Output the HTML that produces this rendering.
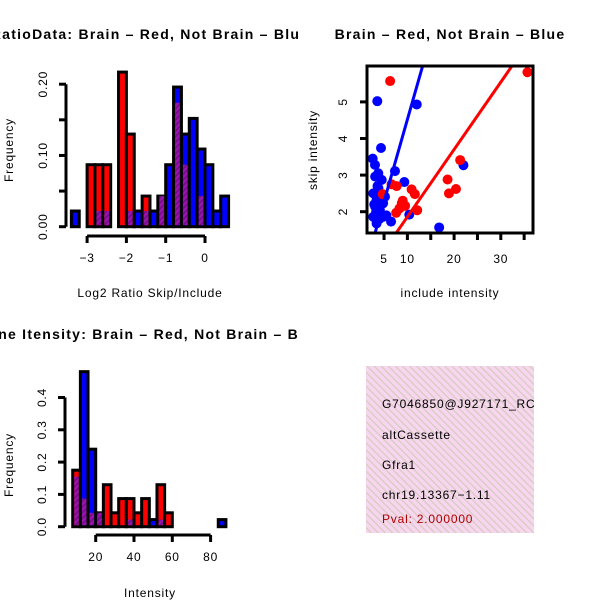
<!DOCTYPE html>
<html><head><meta charset="utf-8"><style>
html,body{margin:0;padding:0;background:#fff;}
svg{display:block;font-family:"Liberation Sans",sans-serif;}
text{letter-spacing:0.8px;}
.ttl{letter-spacing:1.25px;}
</style></head><body>
<svg id="s" width="600" height="600" viewBox="0 0 600 600">
<defs>
<pattern id="purp" patternUnits="userSpaceOnUse" width="4" height="4" patternTransform="rotate(45)">
<rect width="4" height="4" fill="#9a12b0"/><rect width="1.5" height="4" fill="#6e1080"/></pattern>
<pattern id="pink" patternUnits="userSpaceOnUse" width="5" height="5" patternTransform="rotate(-45)">
<rect width="5" height="5" fill="#f8d6f0"/><rect width="1.3" height="5" fill="#d6ccc0"/></pattern>
<clipPath id="cl1"><rect x="0" y="0" width="300" height="300"/></clipPath>
<clipPath id="cl3"><rect x="0" y="300" width="300" height="300"/></clipPath>
<clipPath id="cl2"><rect x="367" y="66" width="166" height="167"/></clipPath>
<clipPath id="cl4"><rect x="366" y="366" width="168" height="168"/></clipPath>
</defs>
<g id="p1"></g>
<g id="p2"></g>
<g id="p3"></g>
<g id="p4">
<rect x="366" y="366" width="168" height="167" fill="url(#pink)"/>
<g clip-path="url(#cl4)" font-size="12">
<text x="382" y="408">G7046850@J927171_RC</text>
<text x="382" y="439">altCassette</text>
<text x="382" y="469">Gfra1</text>
<text x="382" y="499">chr19.13367−1.11</text>
<text x="382" y="523" fill="#b00000">Pval: 2.000000</text>
</g></g>
</svg>
<script>
// ---- Histogram 1 data (log2 ratio) ----
const h1Start = -3.4;
const h1Width = 0.2;
const h1Red  = [0,0,0.087,0.087,0.087,0,0.217,0.13,0,0.043,0,0.043,0,0.174,0.087,0,0.043,0,0,0];
const h1Blue = [0.022,0,0,0.022,0.022,0,0,0.022,0.022,0.022,0.022,0.043,0.087,0.196,0.13,0.152,0.109,0.087,0.022,0.043];
const h1XTicks = [-3,-2,-1,0];
const h1YTicks = [0,0.05,0.1,0.15,0.2];
const h1YLabels = ["0.00","","0.10","","0.20"];
// ---- Histogram 2 data (intensity) ----
const h2Start = 8;
const h2Width = 4;
const h2Red  = [0.175,0.087,0.043,0.043,0.13,0.043,0.087,0.087,0.043,0.087,0,0.13,0.043,0,0,0,0,0,0,0];
const h2Blue = [0.155,0.48,0.24,0.043,0,0,0,0.022,0,0,0.022,0.022,0,0,0,0,0,0,0,0.022];
const h2XTicks = [20,40,60,80];
const h2YTicks = [0,0.1,0.2,0.3,0.4];
const h2YLabels = ["0.0","0.1","0.2","0.3","0.4"];
// ---- Scatter data ----
const redX = [6.3,35.7,21.3,18.6,20.4,18.9,10.9,11.6,12.1,8.8,9.5,8.3,7.6,7.7,6.6,4.7,9.0];
const redY = [5.57,5.81,3.41,2.88,2.62,2.5,2.61,2.48,2.04,2.23,2.16,2.09,1.97,2.7,2.75,2.48,2.3];
const blueX = [3.55,12.0,4.35,2.57,3.06,3.77,4.5,7.34,9.34,22,16.8,10.4,6.5,3.4,2.7,3.1,3.4,2.7,3.8,4.8,4.1,4.8,3.1,5.2,3.3,4.0,2.9,3.6,5.5,4.4];
const blueY = [5.02,4.93,3.74,3.45,3.28,3.05,2.87,3.11,2.81,3.27,1.57,1.92,1.73,1.68,1.86,2.14,2.32,2.5,2.64,2.23,2.05,1.86,2.96,2.41,2.0,1.8,2.2,2.7,1.9,2.4];
const blueFit = [0.04,0.448];
const redFit = [0.02,0.184];
const scXTicks = [5,10,15,20,25,30,35];
const scXLabels = ["5","10","","20","","30",""];
const scYTicks = [2,3,4,5];

const NS="http://www.w3.org/2000/svg";
function mk(parent,tag,attrs){const e=document.createElementNS(NS,tag);for(const k in attrs)e.setAttribute(k,attrs[k]);parent.appendChild(e);return e;}

function hist(g,start,width,red,blue,xS,yS,y0,xTicks,yTicks,yLabels,axX,axY,ttl,xl,tY,xlY){
  g.setAttribute('clip-path',ttl.clip);
  for(let i=0;i<red.length;i++){
    const r=red[i],b=blue[i];
    if(r===0&&b===0)continue;
    const x0=xS(start+i*width),x1=xS(start+(i+1)*width);
    const hi=Math.max(r,b),lo=Math.min(r,b);
    const bar=mk(g,'rect',{x:x0,y:yS(hi),width:x1-x0,height:y0-yS(hi),fill:r>=b?'#ff0000':'#0000ff',stroke:'#000','stroke-width':3});
    
    
    if(lo>0){
      const p=mk(g,'rect',{x:x0+1.5,y:yS(lo),width:x1-x0-3,height:y0-yS(lo)-1.5,fill:'url(#purp)'});
      
      
    }
  }
  const xa=mk(g,'g',{});
  
  
  mk(xa,'line',{x1:xS(xTicks[0]),x2:xS(xTicks[xTicks.length-1]),y1:axY,y2:axY,stroke:'#000','stroke-width':3});
  xTicks.forEach(t=>{mk(xa,'line',{x1:xS(t),x2:xS(t),y1:axY,y2:axY+7,stroke:'#000','stroke-width':3});
    const tx=mk(xa,'text',{x:xS(t),y:axY+26,'text-anchor':'middle','font-size':12});tx.textContent=String(t).replace('-','−');});
  const ya=mk(g,'g',{});
  
  
  mk(ya,'line',{x1:axX,x2:axX,y1:yS(yTicks[0]),y2:yS(yTicks[yTicks.length-1]),stroke:'#000','stroke-width':3});
  yTicks.forEach((t,i)=>{mk(ya,'line',{x1:axX,x2:axX-7,y1:yS(t),y2:yS(t),stroke:'#000','stroke-width':3});
    if(yLabels[i]){const tx=mk(ya,'text',{x:0,y:0,'text-anchor':'middle','font-size':12,transform:`translate(${axX-19},${yS(t)}) rotate(-90)`});tx.textContent=yLabels[i];}});
  const ti=mk(g,'text',{x:150,y:tY,'text-anchor':'middle','font-size':14,'font-weight':'bold','class':'ttl'});ti.textContent=ttl.text;
  
  const xt=mk(g,'text',{x:150,y:xlY,'text-anchor':'middle','font-size':12});xt.textContent=xl;
  
  const yt=mk(g,'text',{x:0,y:0,'text-anchor':'middle','font-size':12,transform:`translate(13,${ttl.ymid}) rotate(-90)`});yt.textContent='Frequency';
  
}
{
  const xS=v=>205+(v-0)*39.3, yS=v=>226.7-v*712.5;
  hist(document.getElementById('p1'),h1Start,h1Width,h1Red,h1Blue,xS,yS,226.7,h1XTicks,h1YTicks,h1YLabels,66,236,
    {clip:'url(#cl1)',text:'RatioData: Brain – Red, Not Brain – Blue',ymid:150},'Log2 Ratio Skip/Include',39,297);
}
{
  const xS=v=>57.4+v*1.915, yS=v=>526.7-v*323;
  hist(document.getElementById('p3'),h2Start,h2Width,h2Red,h2Blue,xS,yS,526.7,h2XTicks,h2YTicks,h2YLabels,65,535,
    {clip:'url(#cl3)',text:'Gene Itensity: Brain – Red, Not Brain – Blue',ymid:465},'Intensity',339,597);
}
{
  const g=document.getElementById('p2');
  const xS=v=>360.7+v*4.67, yS=v=>211.7-(v-2)*36.6;
  const pts=mk(g,'g',{'clip-path':'url(#cl2)'});
  
  
  blueX.forEach((x,i)=>{const c=mk(pts,'circle',{cx:xS(x),cy:yS(blueY[i]),r:5,fill:'#0000ff'});
    });
  redX.forEach((x,i)=>{const c=mk(pts,'circle',{cx:xS(x),cy:yS(redY[i]),r:5,fill:'#ff0000'});
    });
  const bl=mk(pts,'line',{x1:xS(0),y1:yS(blueFit[0]),x2:xS(20),y2:yS(blueFit[0]+blueFit[1]*20),stroke:'#0000ff','stroke-width':3});
  
  const rl=mk(pts,'line',{x1:xS(0),y1:yS(redFit[0]),x2:xS(40),y2:yS(redFit[0]+redFit[1]*40),stroke:'#ff0000','stroke-width':3});
  
  const box=mk(g,'rect',{x:367,y:66,width:166,height:167,fill:'none',stroke:'#000','stroke-width':3});
  
  scXTicks.forEach((t,i)=>{mk(g,'line',{x1:xS(t),x2:xS(t),y1:233,y2:240,stroke:'#000','stroke-width':3});
    if(scXLabels[i]){const tx=mk(g,'text',{x:xS(t),y:263,'text-anchor':'middle','font-size':12});tx.textContent=scXLabels[i];}});
  scYTicks.forEach(t=>{mk(g,'line',{x1:367,x2:360,y1:yS(t),y2:yS(t),stroke:'#000','stroke-width':3});
    const tx=mk(g,'text',{x:0,y:0,'text-anchor':'middle','font-size':12,transform:`translate(347,${yS(t)}) rotate(-90)`});tx.textContent=t;});
  const ti=mk(g,'text',{x:450,y:39,'text-anchor':'middle','font-size':14,'font-weight':'bold','class':'ttl'});ti.textContent='Brain – Red, Not Brain – Blue';
  
  const xt=mk(g,'text',{x:450,y:297,'text-anchor':'middle','font-size':12});xt.textContent='include intensity';
  
  const yt=mk(g,'text',{x:0,y:0,'text-anchor':'middle','font-size':12,transform:'translate(317,150) rotate(-90)'});yt.textContent='skip intensity';
  
}
</script>
</body></html>
